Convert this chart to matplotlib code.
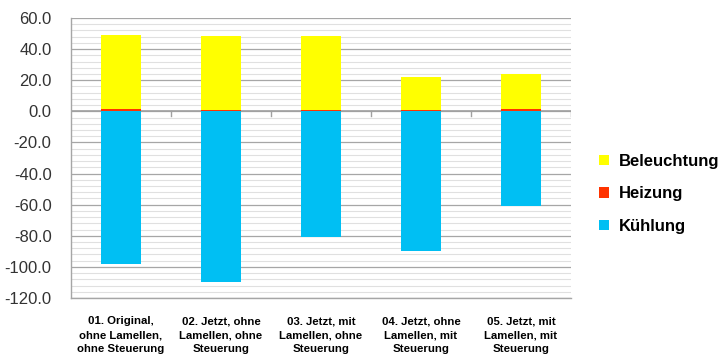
import matplotlib.pyplot as plt
import numpy as np

categories = ["01. Original,\nohne Lamellen,\nohne Steuerung",
              "02. Jetzt, ohne\nLamellen, ohne\nSteuerung",
              "03. Jetzt, mit\nLamellen, ohne\nSteuerung",
              "04. Jetzt, ohne\nLamellen, mit\nSteuerung",
              "05. Jetzt, mit\nLamellen, mit\nSteuerung"]
kuehlung = [-98.0, -110.0, -81.0, -89.5, -61.0]
heizung = [1.5, 0.8, 0.8, 0.8, 1.5]
beleuchtung = [47.6, 47.6, 47.6, 21.3, 22.5]

yticks = np.arange(-120, 61, 20)

fig = plt.figure(figsize=(7.21, 3.59), dpi=100)
ax = fig.add_axes([0.0985, 0.170, 0.6935, 0.780])

x = np.arange(len(categories))
w = 0.4
ax.bar(x, kuehlung, w, color="#00BFF3", label="Kühlung", zorder=3)
ax.bar(x, heizung, w, color="#FF3300", label="Heizung", zorder=3)
ax.bar(x, beleuchtung, w, bottom=heizung, color="#FFFF00", label="Beleuchtung", zorder=3)

ax.set_xlim(-0.5, len(categories) - 0.5)
ax.set_ylim(-120, 60)
ax.set_yticks(yticks)
ax.set_yticklabels([f"{v:.1f}" for v in yticks], fontsize=12, color="#333333",
                   family="Liberation Sans")
ax.set_yticks(np.arange(-120, 61, 4), minor=True)
ax.tick_params(axis="y", which="both", length=0, pad=14)
ax.grid(axis="y", which="major", color="#A6A6A6", linewidth=0.9, zorder=0)
ax.grid(axis="y", which="minor", color="#E0E0E0", linewidth=0.8, zorder=0)

ax.set_xticks(x)
ax.set_xticklabels(categories, fontsize=8.2, fontweight="bold",
                   family="Liberation Sans", linespacing=1.5)
ax.tick_params(axis="x", length=0, pad=13)

# zero line with category separator ticks
ax.axhline(0, color="#A0A0A0", linewidth=1.2, zorder=2)
for b in np.arange(0.5, len(categories) - 0.5 + 1e-9, 1.0):
    ax.plot([b, b], [0, -3], color="#A0A0A0", linewidth=1.0, zorder=2)

for s in ["top", "right"]:
    ax.spines[s].set_visible(False)
for s in ["left", "bottom"]:
    ax.spines[s].set_color("#A6A6A6")
    ax.spines[s].set_linewidth(1.0)

handles, labels = ax.get_legend_handles_labels()
leg = fig.legend(handles[::-1], labels[::-1], loc="center left",
                 bbox_to_anchor=(0.81, 0.46), frameon=False,
                 prop={"family": "Liberation Sans", "weight": "bold", "size": 12},
                 handlelength=0.6, handleheight=0.6, handletextpad=0.6,
                 labelspacing=1.05)

plt.savefig("out.png", dpi=100)
